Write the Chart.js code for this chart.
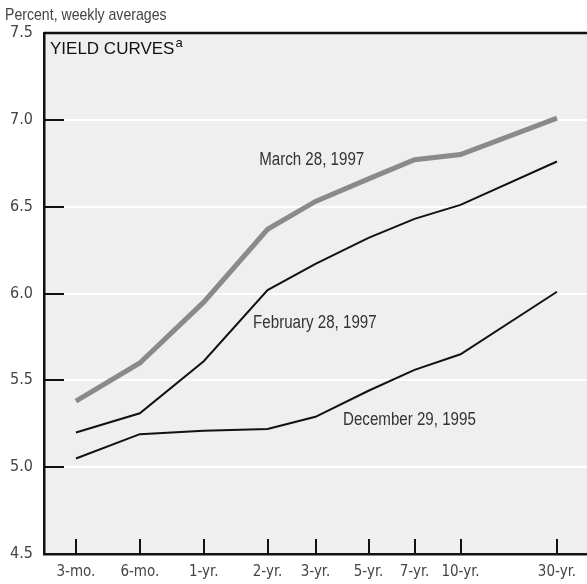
<!DOCTYPE html>
<html lang="en">
<head>
<meta charset="UTF-8">
<title>Yield curves</title>
<script src="https://cdn.jsdelivr.net/npm/chart.js"></script>
<style>
  html, body { margin: 0; padding: 0; background: #fff; }
  #chart { display: block; }
</style>
</head>
<body>
<canvas id="chart" width="587" height="584"></canvas>
<script>
// maturities and where each one sits along the (unevenly spaced) x axis
const maturities = ['3-mo.', '6-mo.', '1-yr.', '2-yr.', '3-yr.', '5-yr.', '7-yr.', '10-yr.', '30-yr.'];
const maturityAxis = [0, 1, 2, 3, 3.75, 4.58, 5.3, 6.02, 7.53];

const march1997 = [5.38, 5.60, 5.95, 6.37, 6.53, 6.66, 6.77, 6.80, 7.01];
const feb1997 = [5.20, 5.31, 5.61, 6.02, 6.17, 6.32, 6.43, 6.51, 6.76];
const dec1995 = [5.05, 5.19, 5.21, 5.22, 5.29, 5.44, 5.56, 5.65, 6.01];

const yTicks = [4.5, 5.0, 5.5, 6.0, 6.5, 7.0, 7.5];

const narrow = "'Liberation Sans Narrow', 'DejaVu Sans Condensed', sans-serif";
const sans = "'Liberation Sans', Arial, sans-serif";
const textColor = '#444';

function pts(vals) {
  return vals.map((v, i) => ({ x: maturityAxis[i], y: v }));
}

// squeeze a regular face sideways to get the condensed look of the original
function narrowText(ctx, text, x, y, size, squeeze, align) {
  ctx.save();
  ctx.font = size + 'px ' + sans;
  ctx.textAlign = align;
  ctx.translate(x, y);
  ctx.scale(squeeze, 1);
  ctx.fillText(text, 0, 0);
  ctx.restore();
}

// background, frame, inner tick marks, title and curve labels
const decor = {
  id: 'decor',
  beforeDraw(chart) {
    const { ctx, chartArea: a } = chart;
    ctx.save();
    ctx.fillStyle = '#efefef';
    ctx.fillRect(a.left, a.top, a.right - a.left, a.bottom - a.top);
    ctx.restore();
  },
  afterDraw(chart) {
    const { ctx, chartArea: a, scales } = chart;
    const x = scales.x, y = scales.y;
    ctx.save();
    ctx.strokeStyle = '#111';
    ctx.lineWidth = 2.5;
    ctx.beginPath();
    ctx.moveTo(a.left, a.top);
    ctx.lineTo(a.right, a.top);
    ctx.stroke();

    ctx.lineWidth = 2;
    yTicks.forEach(t => {
      const py = Math.round(y.getPixelForValue(t));
      ctx.beginPath();
      ctx.moveTo(a.left, py);
      ctx.lineTo(a.left + 20, py);
      ctx.stroke();
    });
    maturityAxis.forEach(t => {
      const px = Math.round(x.getPixelForValue(t));
      ctx.beginPath();
      ctx.moveTo(px, a.bottom);
      ctx.lineTo(px, a.bottom - 15);
      ctx.stroke();
    });

    // heading above the chart
    ctx.fillStyle = textColor;
    ctx.textBaseline = 'alphabetic';
    narrowText(ctx, 'Percent, weekly averages', 5, 20, 17, 0.83, 'left');

    // title in the box
    ctx.fillStyle = '#111';
    ctx.textAlign = 'left';
    ctx.font = '17px ' + sans;
    ctx.fillText('YIELD CURVES', a.left + 6, 54);
    const w = ctx.measureText('YIELD CURVES').width;
    ctx.font = '13px ' + sans;
    ctx.fillText('a', a.left + 7 + w, 47);

    // curve labels
    ctx.fillStyle = '#333';
    ctx.textBaseline = 'middle';
    narrowText(ctx, 'March 28, 1997', x.getPixelForValue(3.69), y.getPixelForValue(6.77), 18, 0.84, 'center');
    narrowText(ctx, 'February 28, 1997', x.getPixelForValue(3.74), y.getPixelForValue(5.83), 18, 0.84, 'center');
    narrowText(ctx, 'December 29, 1995', x.getPixelForValue(5.22), y.getPixelForValue(5.27), 18, 0.84, 'center');
    ctx.restore();
  }
};

new Chart(document.getElementById('chart'), {
  type: 'line',
  data: {
    datasets: [{
      label: 'March 28, 1997',
      data: pts(march1997),
      borderColor: '#8a8a8a',
      borderWidth: 5,
      pointRadius: 0,
      tension: 0
    }, {
      label: 'February 28, 1997',
      data: pts(feb1997),
      borderColor: '#111',
      borderWidth: 2,
      pointRadius: 0,
      tension: 0
    }, {
      label: 'December 29, 1995',
      data: pts(dec1995),
      borderColor: '#111',
      borderWidth: 2,
      pointRadius: 0,
      tension: 0
    }]
  },
  options: {
    responsive: false,
    animation: false,
    layout: { padding: { top: 33, right: 0, left: 0, bottom: 0 } },
    plugins: {
      legend: { display: false },
      tooltip: { enabled: false }
    },
    scales: {
      x: {
        type: 'linear',
        min: -0.5,
        max: 8,
        afterBuildTicks(scale) {
          scale.ticks = maturityAxis.map(v => ({ value: v }));
        },
        afterFit(scale) { scale.height = 30; },
        grid: { display: false, drawTicks: false },
        border: { display: true, color: '#111', width: 2.5 },
        ticks: {
          autoSkip: false,
          maxRotation: 0,
          padding: 9,
          color: textColor,
          font: { family: narrow, size: 15 },
          callback: (v, i) => maturities[i]
        }
      },
      y: {
        min: 4.5,
        max: 7.5,
        afterBuildTicks(scale) {
          scale.ticks = yTicks.map(v => ({ value: v }));
        },
        afterFit(scale) { scale.width = 44; },
        grid: { color: '#ffffff', lineWidth: 2, drawTicks: false },
        border: { display: true, color: '#111', width: 2.5 },
        ticks: {
          padding: 11,
          color: textColor,
          font: { family: narrow, size: 16 },
          callback: v => v.toFixed(1)
        }
      }
    }
  },
  plugins: [decor]
});
</script>
</body>
</html>
